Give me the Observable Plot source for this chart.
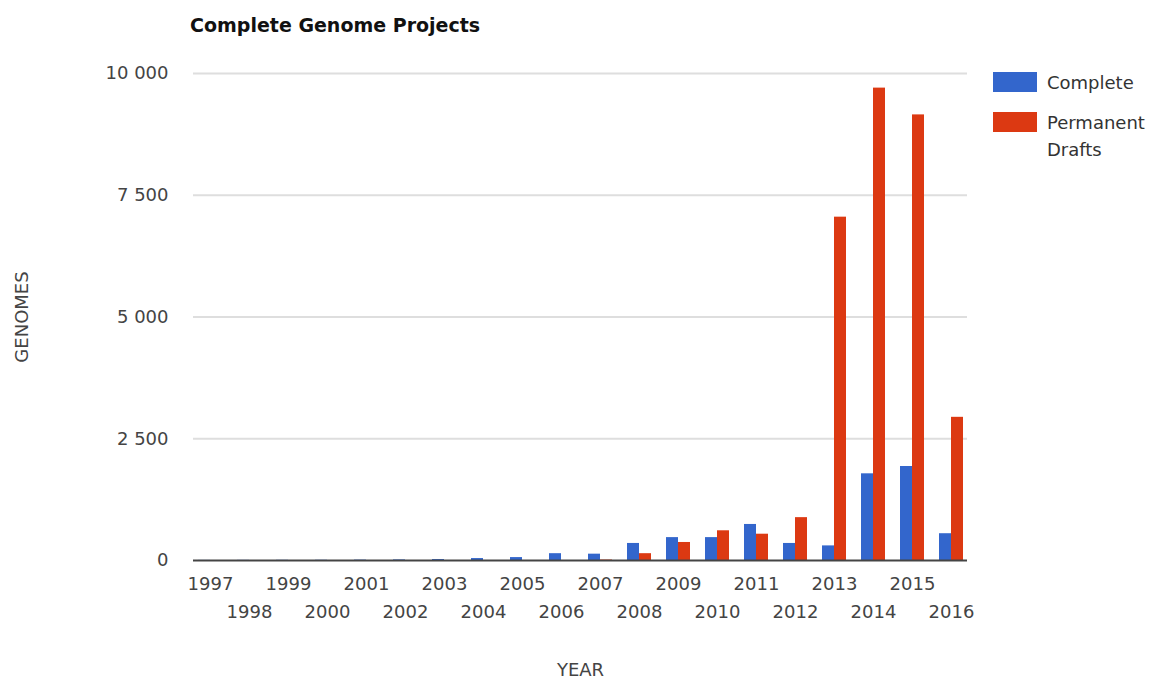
<!DOCTYPE html>
<html>
<head>
<meta charset="utf-8">
<script src="https://cdn.jsdelivr.net/npm/d3@7"></script>
<script src="https://cdn.jsdelivr.net/npm/@observablehq/plot@0.6"></script>
<style>
  html, body { margin: 0; padding: 0; background: #fff; }
  #wrap { position: relative; width: 1163px; height: 682px; font-family: "DejaVu Sans", sans-serif; }
  #title { position: absolute; left: 190px; top: 14px; font-size: 19px; font-weight: bold; color: #111; }
  #legend { position: absolute; left: 993px; top: 72px; font-size: 18px; color: #333; }
  .item { display: flex; align-items: flex-start; margin-bottom: 16px; }
  .sw { width: 44px; height: 20px; margin-right: 10px; flex: none; }
  .lbl { line-height: 27px; margin-top: -3px; }
</style>
</head>
<body>
<div id="wrap">
  <div id="chart"></div>
  <div id="title">Complete Genome Projects</div>
  <div id="legend"></div>
</div>
<script>
const years = [1997,1998,1999,2000,2001,2002,2003,2004,2005,2006,2007,2008,2009,2010,2011,2012,2013,2014,2015,2016];
const complete = [2,3,4,5,8,12,20,40,60,140,130,350,470,470,740,350,300,1780,1930,550];
const drafts   = [0,0,0,0,0,0,0,0,0,0,10,140,370,610,540,880,7050,9700,9150,2940];
const seriesNames = ["Complete", "Permanent\nDrafts"];
const seriesColors = ["#3366cc", "#dc3912"];
const yTicks = [0, 2500, 5000, 7500, 10000];
const oddYears = years.filter(y => y % 2 === 1);
const evenYears = years.filter(y => y % 2 === 0);

const rowsC = years.map((y, i) => ({year: y, value: complete[i]}));
const rowsD = years.map((y, i) => ({year: y, value: drafts[i]}));
const fmt = v => d3.format(",")(v).replace(/,/g, " ");

const half = 12;
const chart = Plot.plot({
  width: 1163,
  height: 682,
  marginLeft: 193,
  marginRight: 196,
  marginTop: 73,
  marginBottom: 122,
  style: {fontFamily: "DejaVu Sans, sans-serif", fontSize: "18px", color: "#444", background: "#fff"},
  x: {type: "band", domain: years, paddingInner: 0.385, paddingOuter: 0.1},
  y: {domain: [0, 10000]},
  marks: [
    Plot.ruleY(yTicks.filter(d => d > 0), {stroke: "#dedede", strokeWidth: 2}),
    Plot.barY(rowsC, {x: "year", y: "value", fill: seriesColors[0], insetRight: half}),
    Plot.barY(rowsD, {x: "year", y: "value", fill: seriesColors[1], insetLeft: half}),
    Plot.ruleY([0], {stroke: "#444", strokeWidth: 2}),
    Plot.axisY({ticks: yTicks, tickFormat: fmt, tickSize: 0, tickPadding: 25, fontSize: 18,
      label: "GENOMES", labelAnchor: "center", labelArrow: "none", labelOffset: 178}),
    Plot.axisX({ticks: oddYears, tickFormat: d => String(d), tickSize: 0, tickPadding: 17, fontSize: 18, label: null}),
    Plot.axisX({ticks: evenYears, tickFormat: d => String(d), tickSize: 0, tickPadding: 45, fontSize: 18,
      label: "YEAR", labelAnchor: "center", labelArrow: "none", labelOffset: 115})
  ]
});
document.getElementById("chart").appendChild(chart);

const legend = document.getElementById("legend");
seriesNames.forEach((n, i) => {
  const it = document.createElement("div");
  it.className = "item";
  const sw = document.createElement("div");
  sw.className = "sw";
  sw.style.background = seriesColors[i];
  const lb = document.createElement("div");
  lb.className = "lbl";
  lb.innerHTML = n.split("\n").join("<br>");
  it.appendChild(sw); it.appendChild(lb);
  legend.appendChild(it);
});
</script>
</body>
</html>
